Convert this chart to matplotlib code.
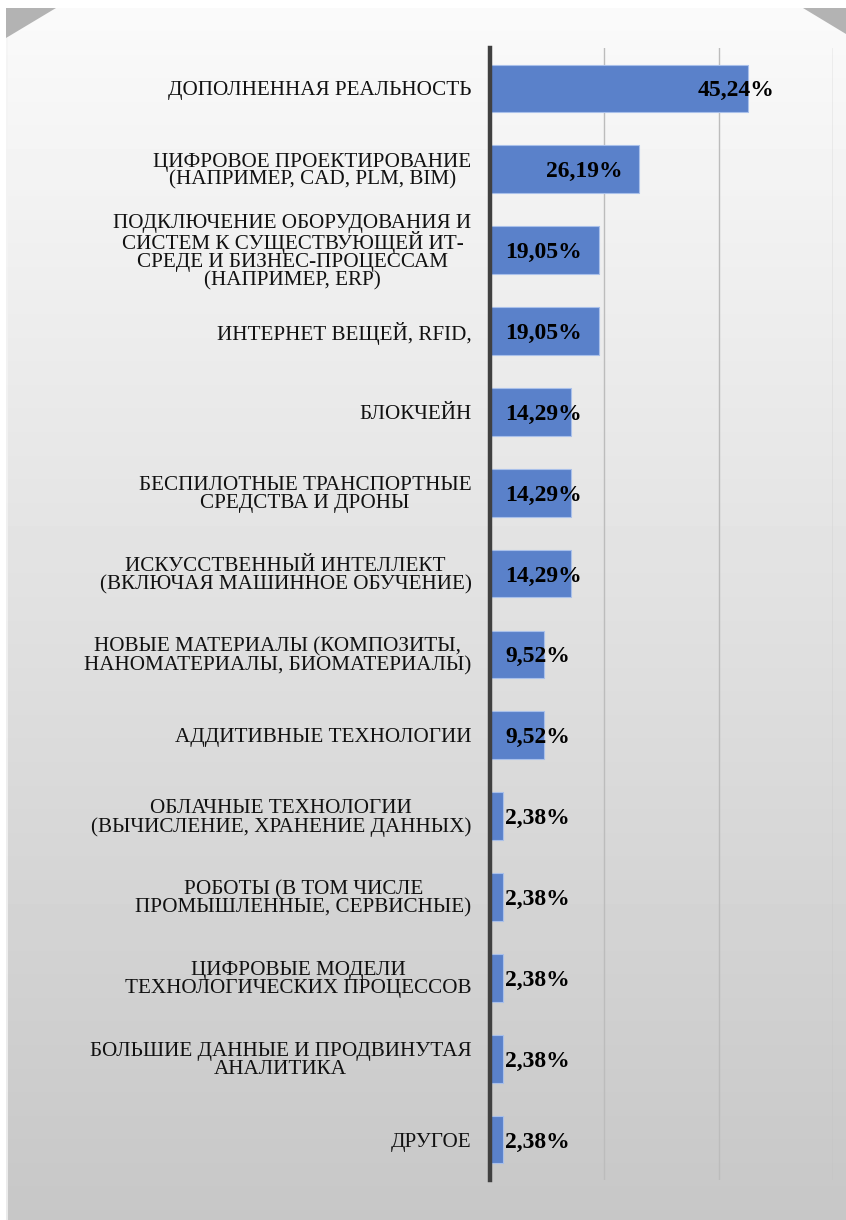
import numpy as np
import matplotlib
matplotlib.use("Agg")
import matplotlib.pyplot as plt
from matplotlib.patches import Polygon, Rectangle

# categories (top to bottom) and shares, %
categories = [
    "ДОПОЛНЕННАЯ РЕАЛЬНОСТЬ",
    "ЦИФРОВОЕ ПРОЕКТИРОВАНИЕ\n(НАПРИМЕР, CAD, PLM, BIM)",
    "ПОДКЛЮЧЕНИЕ ОБОРУДОВАНИЯ И\nСИСТЕМ К СУЩЕСТВУЮЩЕЙ ИТ-\nСРЕДЕ И БИЗНЕС-ПРОЦЕССАМ\n(НАПРИМЕР, ERP)",
    "ИНТЕРНЕТ ВЕЩЕЙ, RFID,",
    "БЛОКЧЕЙН",
    "БЕСПИЛОТНЫЕ ТРАНСПОРТНЫЕ\nСРЕДСТВА И ДРОНЫ",
    "ИСКУССТВЕННЫЙ ИНТЕЛЛЕКТ\n(ВКЛЮЧАЯ МАШИННОЕ ОБУЧЕНИЕ)",
    "НОВЫЕ МАТЕРИАЛЫ (КОМПОЗИТЫ,\nНАНОМАТЕРИАЛЫ, БИОМАТЕРИАЛЫ)",
    "АДДИТИВНЫЕ ТЕХНОЛОГИИ",
    "ОБЛАЧНЫЕ ТЕХНОЛОГИИ\n(ВЫЧИСЛЕНИЕ, ХРАНЕНИЕ ДАННЫХ)",
    "РОБОТЫ (В ТОМ ЧИСЛЕ\nПРОМЫШЛЕННЫЕ, СЕРВИСНЫЕ)",
    "ЦИФРОВЫЕ МОДЕЛИ\nТЕХНОЛОГИЧЕСКИХ ПРОЦЕССОВ",
    "БОЛЬШИЕ ДАННЫЕ И ПРОДВИНУТАЯ\nАНАЛИТИКА",
    "ДРУГОЕ",
]
values = [45.24, 26.19, 19.05, 19.05, 14.29, 14.29, 14.29,
          9.52, 9.52, 2.38, 2.38, 2.38, 2.38, 2.38]
grid_ticks = [20, 40, 60]

W, H = 846, 1220
fig = plt.figure(figsize=(W / 100, H / 100), dpi=100)
fig.patch.set_facecolor("white")

# backdrop: vertical light-grey gradient with bevelled top corners
bg = fig.add_axes([0, 0, 1, 1])
bg.set_xlim(0, W)
bg.set_ylim(H, 0)
bg.axis("off")
grad = np.linspace(0.98, 0.78, 256)[:, None] * np.ones((1, 2))
bg.imshow(grad, cmap="gray", vmin=0, vmax=1, aspect="auto",
          extent=[6, W, H, 8], interpolation="bilinear")
bg.add_patch(Polygon([[6, 8], [56, 8], [6, 38]], closed=True,
                     facecolor="#b3b3b3", edgecolor="none"))
bg.add_patch(Polygon([[803, 8], [W, 8], [W, 34]], closed=True,
                     facecolor="#b3b3b3", edgecolor="none"))
bg.add_patch(Rectangle((6, 38), 1.5, H - 38, facecolor="#f4f4f4",
                       edgecolor="none", alpha=0.8))

# plotting area
left, right = 489.5 / W, 833 / W
top, bottom = 1 - 48 / H, 1 - 1180 / H
ax = fig.add_axes([left, bottom, right - left, top - bottom])
ax.patch.set_visible(False)

y = np.arange(len(values))
ax.barh(y, values, height=0.59, color="#5a81ca", edgecolor="#a9c0ea",
        linewidth=0.8, zorder=2)

ax.set_xlim(0, 60)
ax.set_ylim(len(values) - 0.5, -0.5)
for g in grid_ticks:
    ax.axvline(g, color="#bcbcbc", linewidth=1.0, zorder=1)

for s in ["top", "right", "bottom"]:
    ax.spines[s].set_visible(False)
ax.spines["left"].set_color("#404040")
ax.spines["left"].set_linewidth(3.2)
ax.spines["left"].set_zorder(3)

ax.set_xticks([])
ax.set_yticks(y)
ax.set_yticklabels(categories, family="Liberation Serif", fontsize=15.2,
                   color="#111111", linespacing=0.93, ha="right")
ax.tick_params(axis="y", length=0, pad=13)
for lbl in ax.get_yticklabels():
    lbl.set_multialignment("center")

# value labels: the two longest bars carry them inside, the rest sit at the axis
label_left = [36.4, 9.9] + [2.7] * (len(values) - 2)
for yi, v, lx in zip(y, values, label_left):
    ax.text(lx, yi + 0.03, f"{v:.2f}%".replace(".", ","),
            family="Liberation Serif", fontweight="bold", fontsize=17,
            color="black", ha="left", va="center", zorder=4)

fig.savefig("out.png", dpi=100)
